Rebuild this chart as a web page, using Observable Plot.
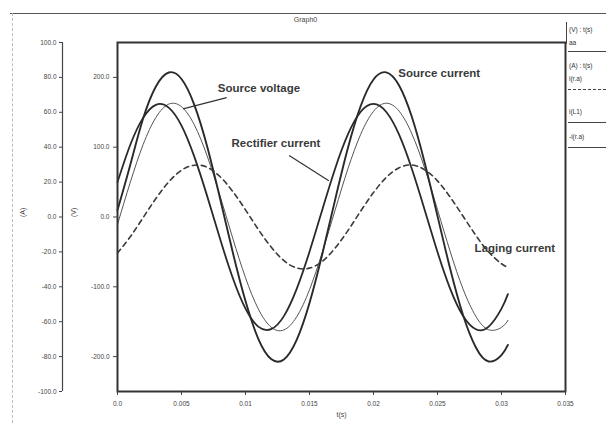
<!DOCTYPE html>
<html>
<head>
<meta charset="utf-8">
<script src="https://cdn.jsdelivr.net/npm/d3@7"></script>
<script src="https://cdn.jsdelivr.net/npm/@observablehq/plot@0.6"></script>
<style>
  html, body { margin: 0; padding: 0; background: #fff; }
  #wrap { position: relative; width: 606px; height: 423px; overflow: hidden; font-family: "Liberation Sans", Arial, sans-serif; }
  .border-top { position: absolute; left: 10px; top: 13px; width: 596px; height: 0; border-top: 1.5px solid #555; }
  .border-left { position: absolute; left: 12px; top: 13px; width: 0; height: 410px; border-left: 1px dashed #bbb; }
  .legend { position: absolute; left: 566px; top: 22px; width: 40px; font-size: 6.5px; color: #333; }
  .legend .vline { position: absolute; left: 0; top: 0; width: 0; height: 22px; border-left: 1.5px solid #444; }
  .legend span { position: absolute; left: 3px; white-space: nowrap; }
  .legend .ln { position: absolute; left: 2px; width: 38px; height: 0; border-top: 1.3px solid #444; }
  .legend .ln.dash { border-top: 1.3px dashed #444; }
</style>
</head>
<body>
<div id="wrap">
  <div class="border-top"></div>
  <div class="border-left"></div>
  <div id="chart"></div>
  <div class="legend">
    <div class="vline"></div>
    <span style="top:4px">(V) : t(s)</span>
    <span style="top:17px">aa</span>
    <div class="ln" style="top:29px"></div>
    <span style="top:40px">(A) : t(s)</span>
    <span style="top:53px">i(r.a)</span>
    <div class="ln dash" style="top:67px"></div>
    <span style="top:86px">i(L1)</span>
    <div class="ln" style="top:100px"></div>
    <span style="top:111px">-i(r.a)</span>
    <div class="ln" style="top:125px"></div>
  </div>
</div>
<script>
// time samples (s)
const t = [0, 0.001, 0.002, 0.003, 0.004, 0.005, 0.006, 0.007, 0.008, 0.009, 0.010,
  0.011, 0.012, 0.013, 0.014, 0.015, 0.016, 0.017, 0.018, 0.019, 0.020,
  0.021, 0.022, 0.023, 0.024, 0.025, 0.026, 0.027, 0.028, 0.029, 0.030, 0.0305];

// aa — source voltage (V), thin line
const sourceVoltage = [-10.6, 49.8, 103.6, 142.6, 161.7, 158.0, 132.1, 87.7, 30.9, -30.1, -87.0,
  -131.7, -157.8, -161.8, -143.0, -104.2, -50.6, 9.8, 69.0, 118.5, 151.4,
  163.0, 151.7, 119.1, 69.8, 10.6, -50.0, -103.4, -142.4, -161.6, -158.1, -148.1];

// i(L1) — source current (A)
const sourceCurrent = [4.0, 30.0, 56.4, 74.8, 82.8, 79.1, 64.3, 40.6, 11.0, -20.1, -48.2,
  -69.8, -81.4, -81.6, -70.4, -49.3, -21.2, 9.8, 39.5, 63.6, 78.8,
  82.9, 75.4, 57.3, 31.1, 0.6, -30.0, -56.3, -74.8, -82.8, -79.1, -73.3];

// -i(r.a) — rectifier current (A)
const rectifierCurrent = [20.0, 41.4, 56.8, 64.3, 62.7, 52.4, 34.6, 12.1, -12.2, -34.8, -52.5,
  -62.8, -64.3, -56.8, -41.2, -19.9, 4.2, 27.7, 47.3, 60.3, 64.8,
  60.2, 47.2, 27.5, 4.0, -20.1, -41.3, -56.7, -64.3, -62.8, -52.5, -44.2];

// i(r.a) — lagging current (A), dashed
const lagingCurrent = [-20.7, -11.3, -0.4, 10.6, 20.1, 26.8, 29.7, 28.5, 23.2, 14.7, 4.1,
  -7.1, -17.2, -25.0, -29.2, -29.3, -25.4, -17.8, -7.8, 3.4, 14.0,
  22.7, 28.2, 29.8, 27.1, 20.7, 11.3, 0.4, -10.6, -20.1, -26.8, -28.8];

// axis ticks
const xTicks = [0, 0.005, 0.01, 0.015, 0.02, 0.025, 0.03, 0.035];
const xTickLabels = ["0.0", "0.005", "0.01", "0.015", "0.02", "0.025", "0.03", "0.035"];
const vTicks = [-200, -100, 0, 100, 200];
const aTicks = [-100, -80, -60, -40, -20, 0, 20, 40, 60, 80, 100];

// annotations (t in s, value in V-axis units)
const annotations = [
  {label: "Source voltage", t: 0.00783, v: 185},
  {label: "Rectifier current", t: 0.00891, v: 105},
  {label: "Source current", t: 0.02194, v: 206},
  {label: "Laging current", t: 0.0279, v: -45}
];
const pointers = [
  {t1: 0.00853, v1: 171, t2: 0.00512, v2: 155},
  {t1: 0.01341, v1: 88, t2: 0.01651, v2: 52}
];

const A2V = 2.5; // A axis ±100 shares the frame with V axis ±250
const rows = (vals, k) => t.map((tt, i) => ({t: tt, v: vals[i] * k}));

const plot = Plot.plot({
  width: 606,
  height: 423,
  marginLeft: 117,
  marginRight: 41,
  marginTop: 42,
  marginBottom: 32,
  style: {fontFamily: "Liberation Sans, Arial, sans-serif", background: "transparent", color: "#444"},
  x: {domain: [0, 0.035]},
  y: {domain: [-250, 250]},
  marks: [
    Plot.line(rows(lagingCurrent, A2V), {x: "t", y: "v", curve: "natural", stroke: "#3a3a3a", strokeWidth: 1.6, strokeDasharray: "5,4"}),
    Plot.line(rows(sourceVoltage, 1), {x: "t", y: "v", curve: "natural", stroke: "#555", strokeWidth: 1}),
    Plot.line(rows(rectifierCurrent, A2V), {x: "t", y: "v", curve: "natural", stroke: "#2a2a2a", strokeWidth: 1.8}),
    Plot.line(rows(sourceCurrent, A2V), {x: "t", y: "v", curve: "natural", stroke: "#2a2a2a", strokeWidth: 1.9}),
    Plot.frame({stroke: "#333", strokeWidth: 2}),
    Plot.axisX({ticks: xTicks, tickFormat: (d, i) => xTickLabels[i], tickSize: 4, tickPadding: 6, fontSize: 6.5, label: null}),
    Plot.axisY({ticks: vTicks, tickFormat: d => d.toFixed(1), tickSize: 4, tickPadding: 4, fontSize: 6.5, label: null}),
    Plot.axisY({ticks: aTicks.map(a => a * A2V), tickFormat: d => (d / A2V).toFixed(1), tickSize: 3, tickPadding: 3, fontSize: 6.5, label: null, dx: -55}),
    Plot.ruleX([0], {y1: -250, y2: 250, dx: -55, stroke: "#444", strokeWidth: 1.2}),
    Plot.text(["(V)"], {frameAnchor: "left", dx: -44, rotate: -90, fontSize: 7, fill: "#444"}),
    Plot.text(["(A)"], {frameAnchor: "left", dx: -95, rotate: -90, fontSize: 7, fill: "#444"}),
    Plot.text(["t(s)"], {frameAnchor: "bottom", dy: 25, fontSize: 7, fill: "#444"}),
    Plot.text(["Graph0"], {frameAnchor: "top", dx: -36, dy: -25, fontSize: 7, fill: "#444"}),
    Plot.link(pointers, {x1: "t1", y1: "v1", x2: "t2", y2: "v2", stroke: "#333", strokeWidth: 1.2}),
    Plot.text(annotations, {x: "t", y: "v", text: "label", textAnchor: "start", fontSize: 11.5, fontWeight: "bold", fill: "#3a3a3a"})
  ]
});
document.getElementById("chart").appendChild(plot);
</script>
</body>
</html>
